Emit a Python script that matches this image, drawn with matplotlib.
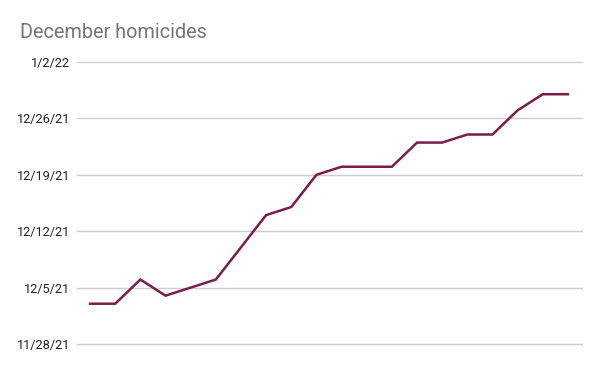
import matplotlib
matplotlib.use("Agg")
import matplotlib.pyplot as plt
import matplotlib.dates as mdates
import datetime as dt

plt.rcParams['font.family'] = ['Roboto', 'DejaVu Sans']

title = "December homicides"
dates = ["2021-12-03", "2021-12-03", "2021-12-06", "2021-12-04", "2021-12-05",
         "2021-12-06", "2021-12-10", "2021-12-14", "2021-12-15", "2021-12-19",
         "2021-12-20", "2021-12-20", "2021-12-20", "2021-12-23", "2021-12-23",
         "2021-12-24", "2021-12-24", "2021-12-27", "2021-12-29", "2021-12-29"]
tick_dates = ["2021-11-28", "2021-12-05", "2021-12-12", "2021-12-19", "2021-12-26", "2022-01-02"]
tick_labels = ["11/28/21", "12/5/21", "12/12/21", "12/19/21", "12/26/21", "1/2/22"]

yvals = [mdates.date2num(dt.date.fromisoformat(d)) for d in dates]
yticks = [mdates.date2num(dt.date.fromisoformat(d)) for d in tick_dates]
xvals = list(range(len(yvals)))

fig = plt.figure(figsize=(6, 3.71), dpi=100)
W, H = 600, 371
ax = fig.add_axes([77 / W, 1 - 344 / H, (582 - 77) / W, (344 - 62) / H])
ax.plot(xvals, yvals, color="#7b1c4a", linewidth=1.8, solid_joinstyle="miter")
ax.set_xlim(-0.52, len(yvals) - 1 + 0.56)
ax.set_ylim(yticks[0], yticks[-1])
ax.set_yticks(yticks)
ax.set_yticklabels(tick_labels, fontsize=9.2, color="#222222")
ax.set_xticks([])
ax.grid(axis="y", color="#cccccc", linewidth=1)
ax.set_axisbelow(True)
for s in ax.spines.values():
    s.set_visible(False)
ax.tick_params(axis="y", length=0, pad=5)
for gl in ax.get_ygridlines():
    gl.set_clip_on(False)
fig.text(20 / W, 1 - 32 / H, title, fontsize=14.3, color="#757575", va="center", ha="left")
fig.savefig("out.png", dpi=100)
